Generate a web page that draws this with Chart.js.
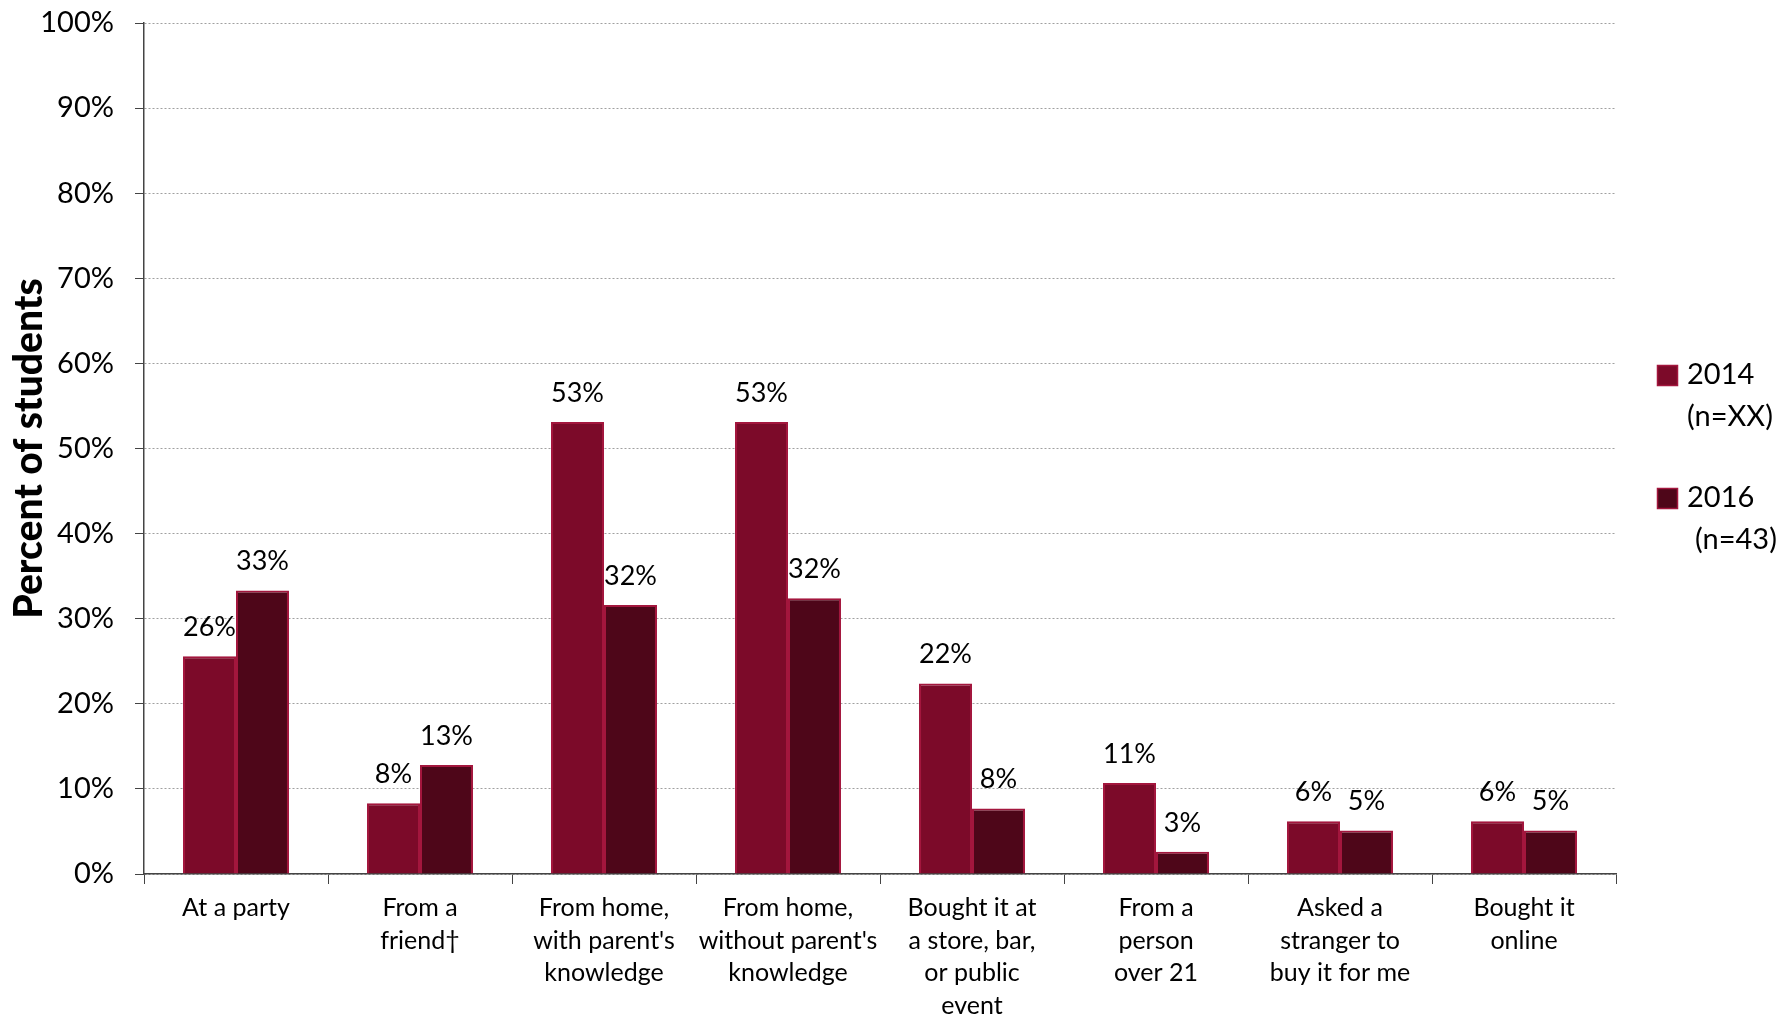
<!DOCTYPE html>
<html>
<head>
<meta charset="utf-8">
<script src="https://cdn.jsdelivr.net/npm/chart.js@4"></script>
<style>
  body { margin: 0; background: #fff; }
</style>
</head>
<body>
<canvas id="chart" width="1786" height="1017"></canvas>
<script>
// categories
let categories = [
  ["At a party"],
  ["From a", "friend\u2020"],
  ["From home,", "with parent's", "knowledge"],
  ["From home,", "without parent's", "knowledge"],
  ["Bought it at", "a store, bar,", "or public", "event"],
  ["From a", "person", "over 21"],
  ["Asked a", "stranger to", "buy it for me"],
  ["Bought it", "online"]
];

// series values (percent)
let values2014 = [25.6, 8.3, 53.1, 53.1, 22.4, 10.7, 6.2, 6.2];
let values2016 = [33.3, 12.8, 31.6, 32.4, 7.7, 2.6, 5.1, 5.1];

// legend text
let seriesNames = ["2014", "2016"];
let seriesNotes = ["(n=XX)", "(n=43)"];

// y ticks
let yTicks = [0, 10, 20, 30, 40, 50, 60, 70, 80, 90, 100];

let color2014 = "#7c0a29";
let color2016 = "#4e0619";
let edgeColor = "#a3163d";
let fontFamily = "Lato";

// ! value labels above bars
const barLabels = {
  id: "barLabels",
  afterDatasetsDraw(chart) {
    const ctx = chart.ctx;
    ctx.save();
    ctx.font = "27px " + fontFamily;
    ctx.fillStyle = "#000";
    ctx.textAlign = "center";
    ctx.textBaseline = "middle";
    chart.data.datasets.forEach((ds, i) => {
      chart.getDatasetMeta(i).data.forEach((bar, j) => {
        ctx.fillText(Math.round(ds.data[j]) + "%", bar.x, bar.y - 29);
      });
    });
    ctx.restore();
  },
};

// ! legend on the right, two lines per entry
const sideLegend = {
  id: "sideLegend",
  afterDraw(chart) {
    const ctx = chart.ctx;
    const boxes = [
      { y: 365, text1: 375, text2: 417, x2: 1687 },
      { y: 488, text1: 498, text2: 540, x2: 1695 },
    ];
    ctx.save();
    ctx.font = "29px " + fontFamily;
    ctx.textBaseline = "middle";
    ctx.textAlign = "left";
    chart.data.datasets.forEach((ds, i) => {
      const b = boxes[i];
      ctx.fillStyle = ds.backgroundColor;
      ctx.fillRect(1657, b.y, 21, 21);
      ctx.strokeStyle = edgeColor;
      ctx.lineWidth = 1.5;
      ctx.strokeRect(1657.5, b.y + 0.5, 20, 20);
      ctx.fillStyle = "#000";
      ctx.fillText(seriesNames[i], 1687, b.text1);
      ctx.fillText(seriesNotes[i], b.x2, b.text2);
    });
    ctx.restore();
  },
};

let ctxChart = document.getElementById("chart");
new Chart(ctxChart, {
  type: "bar",
  plugins: [barLabels, sideLegend],
  options: {
    responsive: false,
    animation: false,
    layout: {
      padding: { top: 23, right: 170, left: 0, bottom: 0 },
    },
    plugins: {
      legend: { display: false },
      tooltip: { enabled: false },
    },
    scales: {
      x: {
        afterFit(scale) {
          scale.height = 143;
          scale.paddingLeft = 0;
          scale.paddingRight = 0;
        },
        grid: {
          display: true,
          offset: true,
          drawOnChartArea: false,
          tickLength: 10,
          tickColor: "#444",
        },
        border: { color: "#444", width: 1.5 },
        ticks: {
          color: "#000",
          font: { family: fontFamily, size: 25, lineHeight: 1.3 },
          padding: 8,
          maxRotation: 0,
          autoSkip: false,
        },
      },
      y: {
        min: 0,
        max: 100,
        afterFit(scale) {
          scale.width = 144;
          scale.paddingTop = 0;
          scale.paddingBottom = 0;
        },
        afterBuildTicks(scale) {
          scale.ticks = yTicks.map((v) => ({ value: v }));
        },
        grid: {
          color: "#a0a0a0",
          lineWidth: 1,
          tickLength: 9,
          tickColor: "#444",
          tickBorderDash: [],
        },
        border: { color: "#444", width: 1.5, dash: [2, 2] },
        ticks: {
          color: "#000",
          font: { family: fontFamily, size: 29 },
          padding: 21,
          callback: (v) => v + "%",
        },
        title: {
          display: true,
          text: "Percent of students",
          color: "#000",
          font: { family: fontFamily, size: 39, weight: "900" },
          padding: { top: 6, bottom: 0 },
        },
      },
    },
  },
  data: {
    labels: categories,
    datasets: [
      {
        label: seriesNames[0],
        data: values2014,
        backgroundColor: color2014,
        borderColor: edgeColor,
        borderWidth: 2,
        categoryPercentage: 0.576,
        barPercentage: 1,
      },
      {
        label: seriesNames[1],
        data: values2016,
        backgroundColor: color2016,
        borderColor: edgeColor,
        borderWidth: 2,
        categoryPercentage: 0.576,
        barPercentage: 1,
      },
    ],
  },
});
</script>
</body>
</html>
